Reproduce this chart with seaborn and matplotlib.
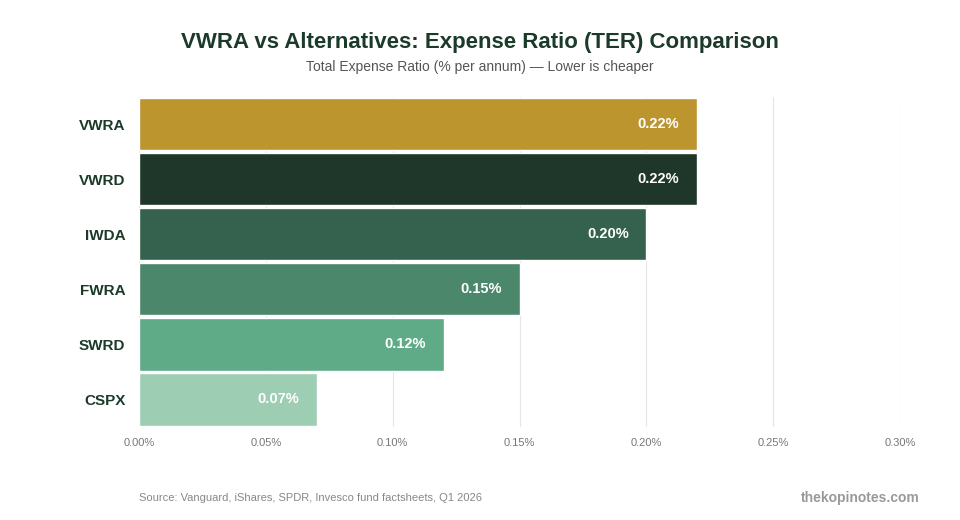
import matplotlib
matplotlib.use("Agg")
import matplotlib.pyplot as plt
import seaborn as sns
import pandas as pd

funds = ["VWRA", "VWRD", "IWDA", "FWRA", "SWRD", "CSPX"]
ter = [0.22, 0.22, 0.20, 0.15, 0.12, 0.07]
colors = ["#D4A017", "#1B3A2A", "#2D6A4F", "#40916C", "#52B788", "#95D5B2"]
xticks = [0.00, 0.05, 0.10, 0.15, 0.20, 0.25, 0.30]

df = pd.DataFrame({"fund": funds, "ter": ter})

sns.set_style("white")
plt.rcParams["font.family"] = ["Liberation Sans", "DejaVu Sans"]

fig = plt.figure(figsize=(9.6, 5.2), dpi=100)
ax = fig.add_axes([0.145, 0.179, 0.7925, 0.635])

sns.barplot(data=df, x="ter", y="fund", hue="fund", palette=colors,
            legend=False, width=0.95, ax=ax, orient="h")

for i, v in enumerate(ter):
    ax.text(v - 0.007, i, f"{v:.2f}%", ha="right", va="center",
            color="white", fontsize=10.5, fontweight="bold")

ax.set_xlim(0, 0.30)
ax.set_xticks(xticks)
ax.set_xticklabels([f"{t:.2f}%" for t in xticks], color="#777777", fontsize=8)
ax.xaxis.grid(True, color="#e6e6e6", linewidth=0.8)
ax.set_axisbelow(True)
ax.set_xlabel("")
ax.set_ylabel("")
ax.tick_params(axis="y", length=0, pad=10)
ax.tick_params(axis="x", length=0, pad=8)
for lbl in ax.get_yticklabels():
    lbl.set_fontweight("bold")
    lbl.set_fontsize(11)
    lbl.set_color("#1B3A2A")
sns.despine(ax=ax, left=True, bottom=True)

fig.text(0.5, 0.919, "VWRA vs Alternatives: Expense Ratio (TER) Comparison",
         ha="center", va="center", fontsize=16, fontweight="bold", color="#1B3A2A")
fig.text(0.5, 0.871, "Total Expense Ratio (% per annum) \u2014 Lower is cheaper",
         ha="center", va="center", fontsize=10, color="#555555")
fig.text(0.145, 0.042, "Source: Vanguard, iShares, SPDR, Invesco fund factsheets, Q1 2026",
         ha="left", va="center", fontsize=8, color="#888888")
fig.text(0.958, 0.042, "thekopinotes.com", ha="right", va="center",
         fontsize=10, fontweight="bold", color="#999999")

fig.savefig("out.png", dpi=100)
